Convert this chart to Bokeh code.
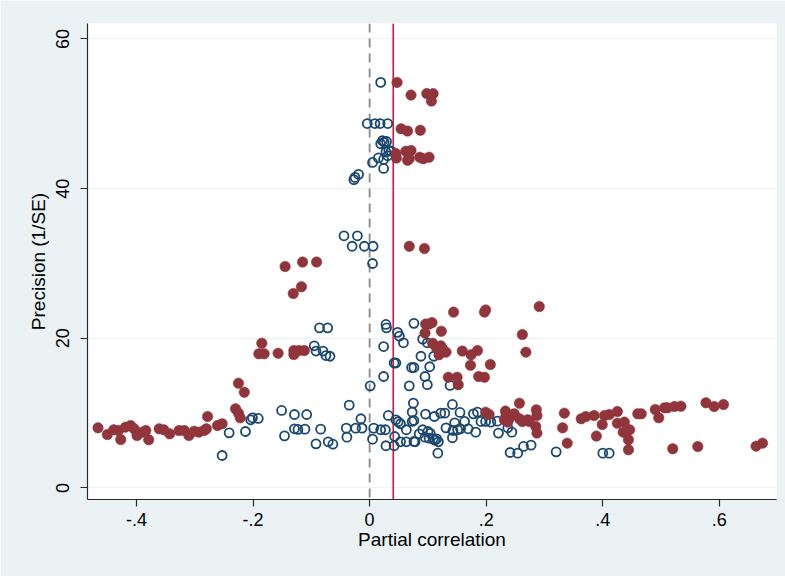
from bokeh.plotting import figure
from bokeh.models import Range1d, FixedTicker, Span
from bokeh.embed import file_html
from bokeh.resources import INLINE

# ---- data ----
blue_x = [
    0.019,
    -0.004, 0.009, 0.018, 0.031,
    0.022, 0.025, 0.029, 0.019,
    0.028, 0.033, 0.037, 0.031,
    0.015, 0.024, 0.005, 0.024,
    -0.019, -0.025, -0.027,
    -0.044, -0.021, -0.030, -0.009, 0.006, 0.005,
    -0.086, -0.072, -0.095, -0.092, -0.080, -0.075, -0.068,
    0.028, 0.029, 0.048, 0.051, 0.058, 0.024, 0.076, 0.091, 0.088, 0.099, 0.110,
    0.042, 0.045, 0.072, 0.076, 0.103, 0.024, 0.095, 0.001, 0.068, 0.099, 0.138,
    -0.151, -0.129, -0.108, -0.035, 0.075, 0.142,
    -0.146, -0.129, -0.123, -0.111, -0.084, -0.092, -0.071, -0.063,
    -0.040, -0.039, -0.024, -0.015, -0.013, 0.007, 0.005, 0.019, 0.027, 0.032,
    0.028, 0.042, 0.043, 0.045, 0.049, 0.053, 0.053, 0.063, 0.063, 0.073,
    0.073, 0.076, 0.076, 0.078, 0.085, 0.091, 0.095, 0.096, 0.100, 0.102,
    0.109, 0.111, 0.115, 0.118, 0.117, 0.122, 0.129, 0.131, 0.142, 0.143,
    0.146, 0.151, 0.155, 0.156, 0.163, 0.169, 0.178, 0.182, 0.185, 0.104, 0.112,
    0.191, 0.199, 0.208, 0.219, 0.221, 0.237, 0.244, 0.241, 0.254, 0.264,
    0.277, 0.320, 0.400, 0.411,
    -0.241, -0.253, -0.213, -0.204, -0.191, -0.201,
]
blue_y = [
    54.2,
    48.7, 48.7, 48.7, 48.7,
    46.4, 46.2, 46.3, 46.0,
    44.9, 45.1, 45.0, 44.4,
    44.1, 43.9, 43.5, 42.7,
    41.9, 41.5, 41.2,
    33.7, 33.7, 32.3, 32.3, 32.3, 30.0,
    21.4, 21.4, 19.0, 18.3, 18.3, 17.7, 17.6,
    21.85, 21.4, 20.8, 20.3, 19.4, 18.9, 22.0, 19.9, 17.6, 19.4, 17.6,
    16.7, 16.7, 16.1, 16.1, 16.2, 14.9, 14.9, 13.65, 13.65, 13.8, 13.7,
    10.36, 9.82, 9.82, 11.07, 11.33, 11.16,
    6.97, 7.91, 7.82, 7.86, 7.86, 5.9, 6.17, 5.85,
    7.99, 6.79, 7.99, 9.25, 7.99, 7.99, 6.52, 7.78, 7.78, 9.69,
    5.64, 5.64, 6.88, 9.11, 8.85, 8.58, 6.17, 6.17, 7.78, 10.13,
    8.89, 9.02, 6.21, 6.17, 7.24, 7.78, 6.79, 9.86, 7.55, 6.66,
    6.57, 9.55, 6.57, 6.17, 4.65, 10.0, 10.0, 8.04, 6.71, 7.68,
    8.71, 7.78, 10.09, 7.91, 8.89, 7.91, 9.91, 7.46, 10.13, 7.3, 6.4,
    8.89, 8.89, 8.80, 8.93, 7.33, 8.04, 7.46, 4.74, 4.65, 5.55,
    5.72, 4.83, 4.65, 4.65,
    7.37, 4.34, 7.55, 9.11, 9.29, 9.38,
]

red_x = [
    -0.466, -0.450, -0.439, -0.431, -0.427, -0.419, -0.410, -0.404, -0.399, -0.390,
    -0.379, -0.384, -0.361, -0.353, -0.343, -0.327, -0.318, -0.310, -0.301, -0.293,
    -0.284, -0.280, -0.278, -0.261, -0.253, -0.230, -0.225, -0.222, -0.225, -0.215,
    -0.145, -0.115, -0.091, -0.131, -0.117,
    -0.185, -0.190, -0.181, -0.157, -0.130, -0.121, -0.112, -0.130,
    0.068, 0.094,
    0.047, 0.071, 0.098, 0.109, 0.106, 0.054, 0.065, 0.087, 0.045, 0.046,
    0.062, 0.071, 0.065, 0.068, 0.086, 0.092, 0.102,
    0.144, 0.197, 0.199, 0.291, 0.096, 0.107, 0.102, 0.123, 0.095, 0.262,
    0.108, 0.114, 0.122, 0.125, 0.131, 0.119, 0.159, 0.174, 0.185, 0.268,
    0.173, 0.135, 0.150, 0.152, 0.187, 0.207, 0.197,
    0.199, 0.205, 0.233, 0.234, 0.239, 0.231, 0.237, 0.248, 0.257, 0.257,
    0.262, 0.271, 0.274, 0.286, 0.287, 0.285, 0.287, 0.334, 0.331, 0.339,
    0.363, 0.371, 0.385, 0.389, 0.399, 0.403, 0.411, 0.425, 0.425, 0.437,
    0.435, 0.446, 0.444, 0.444, 0.460, 0.466, 0.490, 0.496, 0.506, 0.511,
    0.523, 0.534, 0.520, 0.563, 0.577, 0.591, 0.607, 0.663, 0.674,
]
red_y = [
    8.04, 7.15, 7.78, 7.68, 6.48, 8.13, 8.35, 7.91, 7.02, 7.46,
    6.44, 7.68, 7.91, 7.78, 7.24, 7.68, 7.68, 7.02, 7.59, 7.46,
    7.68, 7.91, 9.55, 8.35, 8.58, 10.58, 10.0, 9.38, 14.0, 12.8,
    29.6, 30.2, 30.2, 26.0, 26.9,
    19.35, 17.93, 17.93, 18.0, 18.37, 18.37, 18.37, 17.84,
    32.3, 32.0,
    54.2, 52.5, 52.7, 52.7, 51.7, 48.0, 47.7, 47.8, 44.7, 44.1,
    45.0, 45.1, 43.8, 44.0, 44.2, 44.0, 44.2,
    23.5, 23.5, 23.8, 24.25, 21.9, 22.1, 21.9, 20.95, 20.7, 20.5,
    19.35, 18.8, 19.0, 18.6, 18.15, 17.8, 18.3, 17.8, 18.37, 18.15,
    16.4, 14.8, 14.8, 13.8, 14.9, 16.5, 14.8,
    10.13, 9.82, 10.27, 9.69, 9.25, 9.11, 8.80, 9.91, 11.33, 9.25,
    8.89, 9.11, 8.89, 10.45, 9.69, 8.22, 7.33, 10.0, 8.04, 5.99,
    9.25, 9.55, 9.69, 6.93, 8.49, 9.69, 9.82, 10.22, 8.66, 8.80,
    7.46, 7.78, 6.44, 5.10, 9.91, 9.91, 10.49, 9.38, 10.72, 10.72,
    10.89, 10.93, 5.24, 5.55, 11.39, 10.89, 11.16, 5.59, 5.99,
]

x_ticks = [-0.4, -0.2, 0.0, 0.2, 0.4, 0.6]
x_tick_labels = ["-.4", "-.2", "0", ".2", ".4", ".6"]
y_ticks = [0, 20, 40, 60]
zero_line = 0.0
mean_effect = 0.0405

BG = "#EAF2F3"
FONT = "Liberation Sans"

p = figure(width=785, height=576, output_backend="svg", toolbar_location=None,
           x_range=Range1d(-0.484, 0.698), y_range=Range1d(-1.54, 62.07),
           min_border_left=87, min_border_right=9, min_border_top=23,
           min_border_bottom=77)
p.border_fill_color = BG
p.background_fill_color = "white"
p.outline_line_color = None

p.xgrid.visible = False
p.ygrid.grid_line_color = BG
p.ygrid.grid_line_width = 1.2
p.ygrid.ticker = FixedTicker(ticks=y_ticks)

p.xaxis.ticker = FixedTicker(ticks=x_ticks)
p.xaxis.major_label_overrides = {t: l for t, l in zip(x_ticks, x_tick_labels)}
p.yaxis.ticker = FixedTicker(ticks=y_ticks)
p.yaxis.major_label_orientation = "vertical"

for ax in (p.xaxis, p.yaxis):
    ax.axis_line_color = "#2b2b2b"
    ax.axis_line_width = 1.2
    ax.major_tick_line_color = "#2b2b2b"
    ax.major_tick_line_width = 1.2
    ax.major_tick_out = 7
    ax.major_tick_in = 0
    ax.minor_tick_line_color = None
    ax.major_label_text_font = FONT
    ax.major_label_text_font_size = "18px"
    ax.major_label_text_color = "black"
    ax.axis_label_text_font = FONT
    ax.axis_label_text_font_size = "19px"
    ax.axis_label_text_font_style = "normal"
    ax.axis_label_text_color = "black"

p.xaxis.axis_label = "Partial correlation"
p.yaxis.axis_label = "Precision (1/SE)"
p.xaxis.major_label_standoff = 6
p.xaxis.axis_label_standoff = 0
p.yaxis.major_label_standoff = 11
p.yaxis.axis_label_standoff = 5

p.add_layout(Span(location=zero_line, dimension="height", line_color="#8a8a8a",
                  line_width=1.8, line_dash="9 6", level="underlay"))
p.add_layout(Span(location=mean_effect, dimension="height", line_color="#DC1446",
                  line_width=1.6, level="underlay"))

p.scatter(blue_x, blue_y, marker="circle", size=9, fill_color=None,
          line_color="#1A476F", line_width=1.8)
p.scatter(red_x, red_y, marker="circle", size=10.5, fill_color="#90353B",
          line_color="#90353B", line_width=0.5)

open("out.html", "w").write(file_html(p, INLINE))
